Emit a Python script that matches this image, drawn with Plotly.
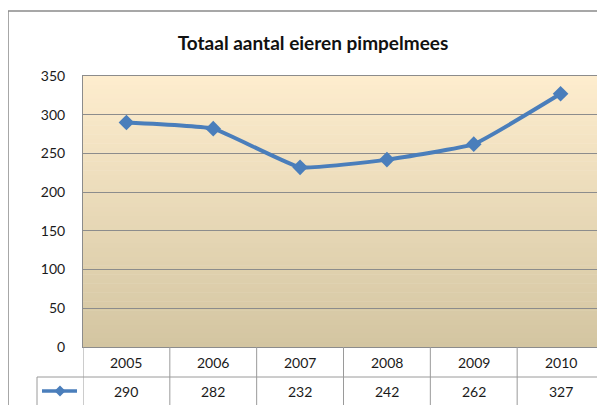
import plotly.graph_objects as go

years = ['2005', '2006', '2007', '2008', '2009', '2010']
eggs = [290, 282, 232, 242, 262, 327]
y_ticks = [0, 50, 100, 150, 200, 250, 300, 350]

# the page puts the figure 8px in from the corner, so work in shifted pixels
OFF = 8
W, H = 605 - OFF, 405 - OFF
L, R, T, B = 83 - OFF, 1, 76 - OFF, 58
pw, ph = W - L - R, H - T - B


def px_x(x):
    return (x - OFF - L) / pw


def px_y(y):
    return (H - B - (y - OFF)) / ph


line_col = '#4A7EBB'
grid_col = '#8C8C8C'
font = 'Lato, Open Sans, sans-serif'

xs = list(range(len(years)))

fig = go.Figure()

fig.add_trace(go.Scatter(
    x=xs,
    y=eggs,
    mode='lines+markers',
    line=dict(color=line_col, width=4, shape='spline', smoothing=0.35),
    marker=dict(symbol='diamond', size=12, color=line_col),
    showlegend=False
))

shapes = []
annotations = []

# plot area gradient background, drawn as thin bands under the grid
top_rgb = (254, 237, 206)
bot_rgb = (211, 197, 161)
n_bands = 60
for k in range(n_bands):
    f = (k + 0.5) / n_bands
    c = tuple(round(b + (t - b) * f) for t, b in zip(top_rgb, bot_rgb))
    shapes.append(dict(type='rect', xref='paper', yref='paper', layer='below',
                       x0=0, x1=1, y0=k / n_bands, y1=(k + 1) / n_bands + 0.002,
                       fillcolor='rgb(%d,%d,%d)' % c, line=dict(width=0)))

# outer chart border
shapes.append(dict(type='line', xref='paper', yref='paper',
                   x0=px_x(8), x1=px_x(8), y0=px_y(11), y1=px_y(410),
                   line=dict(color='#8A8A8A', width=1.5)))
shapes.append(dict(type='line', xref='paper', yref='paper',
                   x0=px_x(8), x1=px_x(610), y0=px_y(11), y1=px_y(11),
                   line=dict(color='#8A8A8A', width=1.5)))

# data table lines
for i in range(len(years) + 1):
    shapes.append(dict(type='line', xref='x', yref='paper',
                       x0=i - 0.5, x1=i - 0.5, y0=0, y1=px_y(410),
                       line=dict(color='#9A9A9A', width=1)))
shapes.append(dict(type='line', xref='paper', yref='paper',
                   x0=px_x(37), x1=px_x(610), y0=px_y(377), y1=px_y(377),
                   line=dict(color='#9A9A9A', width=1)))
shapes.append(dict(type='line', xref='paper', yref='paper',
                   x0=px_x(37), x1=px_x(37), y0=px_y(377), y1=px_y(410),
                   line=dict(color='#9A9A9A', width=1)))

# legend key in table
shapes.append(dict(type='line', xref='paper', yref='paper',
                   x0=px_x(42), x1=px_x(77), y0=px_y(391), y1=px_y(391),
                   line=dict(color=line_col, width=3.5)))
cx, cy, d = 60, 391, 5.5
shapes.append(dict(type='path', xref='paper', yref='paper',
                   path=f'M {px_x(cx - d)} {px_y(cy)} L {px_x(cx)} {px_y(cy - d)} '
                        f'L {px_x(cx + d)} {px_y(cy)} L {px_x(cx)} {px_y(cy + d)} Z',
                   fillcolor=line_col, line=dict(width=0)))

for i, (yr, v) in enumerate(zip(years, eggs)):
    annotations.append(dict(x=i, y=px_y(362), xref='x', yref='paper', text=yr,
                            yanchor='middle', showarrow=False,
                            font=dict(size=14, color='#1A1A1A', family=font)))
    annotations.append(dict(x=i, y=px_y(391), xref='x', yref='paper', text=str(v),
                            yanchor='middle', showarrow=False,
                            font=dict(size=14, color='#1A1A1A', family=font)))

fig.update_layout(
    width=W, height=H,
    margin=dict(l=L, r=R, t=T, b=B),
    paper_bgcolor='white',
    plot_bgcolor='rgba(0,0,0,0)',
    title=dict(text='<b>Totaal aantal eieren pimpelmees</b>', x=(313 - OFF) / W,
               xanchor='center', y=1 - (43 - OFF) / H, yanchor='middle',
               font=dict(size=19, color='#111111', family=font)),
    xaxis=dict(range=[-0.5, 5.5], showticklabels=False, showgrid=False,
               zeroline=False, showline=True, mirror=True, linecolor=grid_col, linewidth=1,
               fixedrange=True),
    yaxis=dict(range=[0, 350], tickvals=y_ticks, showgrid=True, gridcolor=grid_col,
               gridwidth=1, zeroline=False, showline=True, linecolor=grid_col, linewidth=1,
               ticks='', ticklabelstandoff=14,
               tickfont=dict(size=14, color='#1A1A1A', family=font), fixedrange=True),
    shapes=shapes,
    annotations=annotations,
    showlegend=False
)

fig.write_html('out.html')
